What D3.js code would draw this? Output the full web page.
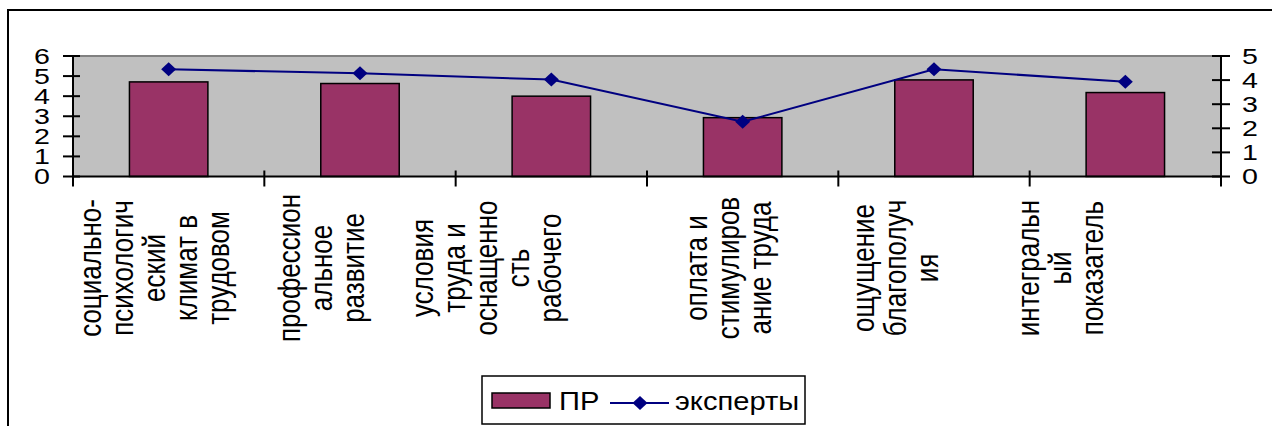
<!DOCTYPE html>
<html><head><meta charset="utf-8">
<script src="https://cdn.jsdelivr.net/npm/d3@7"></script>
<style>body{margin:0;background:#fff}svg{display:block;font-family:"Liberation Sans",Arial,sans-serif}</style>
</head><body>
<svg id="c" width="1272" height="426"></svg>
<script>
const categories = ["социально-психологический климат в трудовом", "профессиональное развитие", "условия труда и оснащенность рабочего", "оплата и стимулирование труда", "ощущение благополучия", "интегральный показатель"];
const categoryLines = [
  ["социально-", "психологич", "еский", "климат в", "трудовом"],
  ["профессион", "альное", "развитие"],
  ["условия", "труда и", "оснащенно", "сть", "рабочего"],
  ["оплата и", "стимулиров", "ание труда"],
  ["ощущение", "благополуч", "ия"],
  ["интегральн", "ый", "показатель"]
];
const seriesNames = ["ПР", "эксперты"];
const prValues = [4.71, 4.63, 4.0, 2.93, 4.81, 4.18];
const expertValues = [4.45, 4.28, 4.02, 2.27, 4.45, 3.93];
const leftTicks = [0, 1, 2, 3, 4, 5, 6];
const rightTicks = [0, 1, 2, 3, 4, 5];

const svg = d3.select("#c");
const L = 73, R = 1221, T = 56, B = 176.5;
const barColor = "#993366", lineColor = "#000080";
const sx = 1.3;

svg.append("rect").attr("x", 8).attr("y", 10).attr("width", 1300).attr("height", 500)
  .attr("fill", "none").attr("stroke", "#000").attr("stroke-width", 2);

const x = d3.scaleBand().domain(categories).range([L, R]).padding(0);
const yL = d3.scaleLinear().domain([0, 6]).range([B, T]);
const yR = d3.scaleLinear().domain([0, 5]).range([B, T]);

svg.append("rect").attr("x", L).attr("y", T).attr("width", R - L).attr("height", B - T).attr("fill", "#c0c0c0");
svg.append("line").attr("x1", L).attr("x2", R).attr("y1", T).attr("y2", T).attr("stroke", "#808080").attr("stroke-width", 2);

// bars
const bw = x.bandwidth() * 0.41;
svg.append("g").selectAll("rect").data(prValues).join("rect")
  .attr("x", (d, i) => x(categories[i]) + x.bandwidth() / 2 - bw / 2)
  .attr("y", d => yL(d)).attr("width", bw).attr("height", d => B - yL(d))
  .attr("fill", barColor).attr("stroke", "#000").attr("stroke-width", 1.5);

// axes
const ax = svg.append("g").attr("stroke", "#000").attr("stroke-width", 2);
ax.append("line").attr("x1", L).attr("x2", L).attr("y1", T).attr("y2", B);
ax.append("line").attr("x1", R).attr("x2", R).attr("y1", T).attr("y2", B);
ax.append("line").attr("x1", L).attr("x2", R).attr("y1", B).attr("y2", B);
ax.selectAll(".lt").data(leftTicks).join("line").attr("x1", L - 10).attr("x2", L + 7).attr("y1", d => yL(d)).attr("y2", d => yL(d));
ax.selectAll(".rt").data(rightTicks).join("line").attr("x1", R - 9).attr("x2", R + 9).attr("y1", d => yR(d)).attr("y2", d => yR(d));
const bounds = categories.map(c => x(c)).concat([R]);
ax.selectAll(".bt").data(bounds).join("line").attr("x1", d => d).attr("x2", d => d).attr("y1", B - 6).attr("y2", B + 10);

svg.append("g").selectAll("text").data(leftTicks).join("text")
  .attr("transform", d => `translate(50,${yL(d)}) scale(${sx},1)`)
  .attr("text-anchor", "end").attr("dominant-baseline", "central").attr("font-size", 22).text(d => d);
svg.append("g").selectAll("text").data(rightTicks).join("text")
  .attr("transform", d => `translate(1242,${yR(d)}) scale(${sx},1)`)
  .attr("text-anchor", "start").attr("dominant-baseline", "central").attr("font-size", 22).text(d => d);

// category labels
const lineStep = 32;
const shifts = [-15, -40, -66];
categoryLines.forEach((lines, i) => {
  const cx = x(categories[i]) + x.bandwidth() / 2 + shifts[i % 3];
  const x0 = cx - (lines.length - 1) * lineStep / 2;
  svg.append("g").selectAll("text").data(lines).join("text")
    .attr("transform", (d, j) => `translate(${x0 + j * lineStep},268) scale(1.24,1) rotate(-90)`)
    .attr("text-anchor", "middle").attr("dominant-baseline", "central").attr("font-size", 26).text(d => d);
});

// line series
const diamond = "M0,-7L7.5,0L0,7L-7.5,0Z";
const px = (d, i) => x(categories[i]) + x.bandwidth() / 2;
svg.append("path").datum(expertValues)
  .attr("d", d3.line().x(px).y(d => yR(d)))
  .attr("fill", "none").attr("stroke", lineColor).attr("stroke-width", 2);
svg.append("g").selectAll("path").data(expertValues).join("path")
  .attr("transform", (d, i) => `translate(${px(d, i)},${yR(d)})`).attr("d", diamond).attr("fill", lineColor);

// legend
const lg = svg.append("g");
lg.append("rect").attr("x", 482).attr("y", 376).attr("width", 323).attr("height", 48).attr("fill", "#fff").attr("stroke", "#000").attr("stroke-width", 1.5);
lg.append("rect").attr("x", 492).attr("y", 393).attr("width", 58).attr("height", 15).attr("fill", barColor).attr("stroke", "#000").attr("stroke-width", 1.5);
lg.append("text").attr("transform", "translate(559,401) scale(1.12,1)").attr("dominant-baseline", "central").attr("font-size", 26).text(seriesNames[0]);
lg.append("line").attr("x1", 610).attr("x2", 669).attr("y1", 403).attr("y2", 403).attr("stroke", lineColor).attr("stroke-width", 2);
lg.append("path").attr("transform", "translate(640,403)").attr("d", diamond).attr("fill", lineColor);
lg.append("text").attr("transform", "translate(675,401) scale(1.12,1)").attr("dominant-baseline", "central").attr("font-size", 26).text(seriesNames[1]);
</script>
</body></html>
